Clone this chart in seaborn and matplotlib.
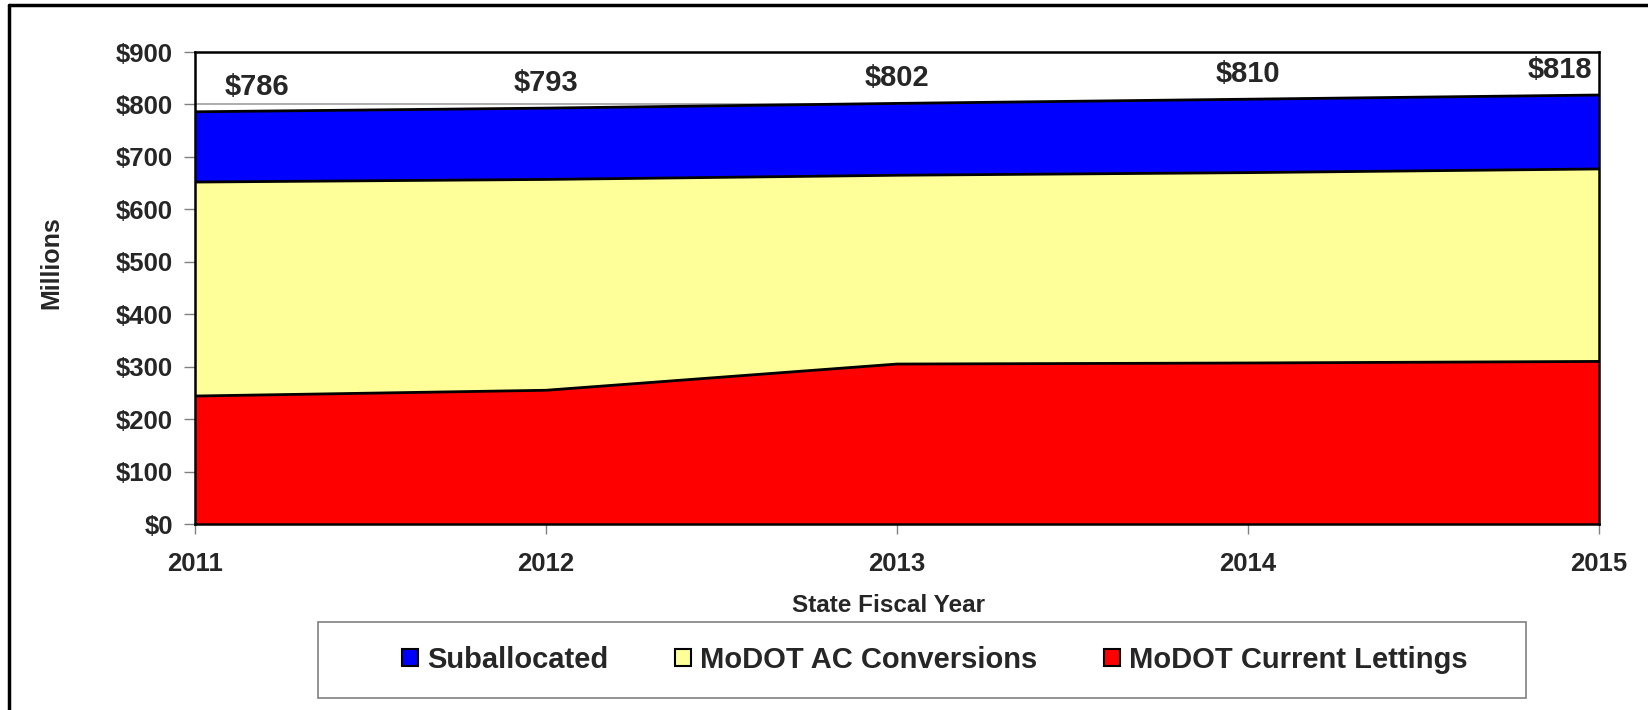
import numpy as np
import pandas as pd
import matplotlib
matplotlib.use('Agg')
import matplotlib.pyplot as plt
import matplotlib.patches as mpatches
from matplotlib.lines import Line2D
import seaborn as sns

## chart data (millions of dollars)
years = [2011, 2012, 2013, 2014, 2015]
current_lettings = [244, 255, 305, 307, 310]
ac_conversions = [408, 402, 360, 363, 367]
suballocated = [134, 136, 137, 140, 141]
totals = [786, 793, 802, 810, 818]

series_names = ['Suballocated', 'MoDOT AC Conversions', 'MoDOT Current Lettings']
series_colors = ['#0000ff', '#ffff99', '#ff0000']

yticks = [0, 100, 200, 300, 400, 500, 600, 700, 800, 900]
ytick_labels = ['$0', '$100', '$200', '$300', '$400', '$500', '$600', '$700', '$800', '$900']

sns.set_style('white')
plt.rcParams['font.family'] = ['Liberation Sans', 'DejaVu Sans']
plt.rcParams['font.weight'] = 'bold'

df = pd.DataFrame({'year': years, 'red': current_lettings,
                   'ac': ac_conversions, 'sub': suballocated})
df['red_top'] = df['red']
df['ac_top'] = df['red'] + df['ac']
df['sub_top'] = df['ac_top'] + df['sub']

W, H = 1648, 710
fig = plt.figure(figsize=(W / 100, H / 100), dpi=100)
ax = fig.add_axes([195 / W, 1 - 524 / H, (1599 - 195) / W, (524 - 52) / H])

## stacked areas
ax.fill_between(df['year'], 0, df['red_top'], color=series_colors[2], zorder=2, lw=0)
ax.fill_between(df['year'], df['red_top'], df['ac_top'], color=series_colors[1], zorder=2, lw=0)
ax.fill_between(df['year'], df['ac_top'], df['sub_top'], color=series_colors[0], zorder=2, lw=0)
for col in ['red_top', 'ac_top', 'sub_top']:
    sns.lineplot(data=df, x='year', y=col, color='black', lw=2, ax=ax, zorder=3)

ax.set_xlim(2011, 2015)
ax.set_ylim(0, 900)
ax.set_yticks(yticks)
ax.set_yticklabels(ytick_labels)
ax.set_xticks(years)
ax.set_xticklabels([str(y) for y in years])
ax.set_xlabel('')
ax.set_ylabel('')
ax.yaxis.grid(True, color='#a0a0a0', lw=1.2)
ax.set_axisbelow(True)
for s in ax.spines.values():
    s.set_color('black')
    s.set_linewidth(1.8)
    s.set_zorder(4)
ax.tick_params(axis='y', direction='out', length=8, width=1, color='#808080',
               labelsize=18.5, pad=8, left=True)
ax.tick_params(axis='x', direction='out', length=7, width=1, color='#808080',
               labelsize=18.5, pad=13, bottom=True)

## total labels
for i, (yr, tot) in enumerate(zip(years, totals)):
    if i == 0:
        ha, dx = 'left', 21
    elif i == len(years) - 1:
        ha, dx = 'right', -5
    else:
        ha, dx = 'center', 0
    ax.annotate(f'${tot}', (yr, tot), xytext=(dx, 18), textcoords='offset points',
                ha=ha, va='center', fontsize=21, fontweight='bold', zorder=5)

fig.text(51 / W, 1 - 263 / H, 'Millions', rotation=90, ha='center', va='center',
         fontsize=18, fontweight='bold')
fig.text(889 / W, 1 - 606 / H, 'State Fiscal Year', ha='center', va='center',
         fontsize=17.5, fontweight='bold')

## legend
handles = [mpatches.Patch(facecolor=c, edgecolor='black', lw=1.5) for c in series_colors]
fig.legend(handles, series_names, loc='center', bbox_to_anchor=(935 / W, 1 - 660 / H),
           ncol=3, frameon=False, fontsize=21, handlelength=0.55, handleheight=0.55,
           handletextpad=0.3, columnspacing=2.3)
fig.patches.append(mpatches.Rectangle((318 / W, 1 - 698 / H), (1526 - 318) / W, 76 / H,
                                      transform=fig.transFigure, fill=False,
                                      edgecolor='#808080', lw=1.2))

## outer frame of the page figure
fig.lines.append(Line2D([9 / W, 1], [1 - 5 / H, 1 - 5 / H], transform=fig.transFigure,
                        color='black', lw=2.5))
fig.lines.append(Line2D([9 / W, 9 / W], [0, 1 - 5 / H], transform=fig.transFigure,
                        color='black', lw=2.5))

fig.savefig('out.png', dpi=100)
